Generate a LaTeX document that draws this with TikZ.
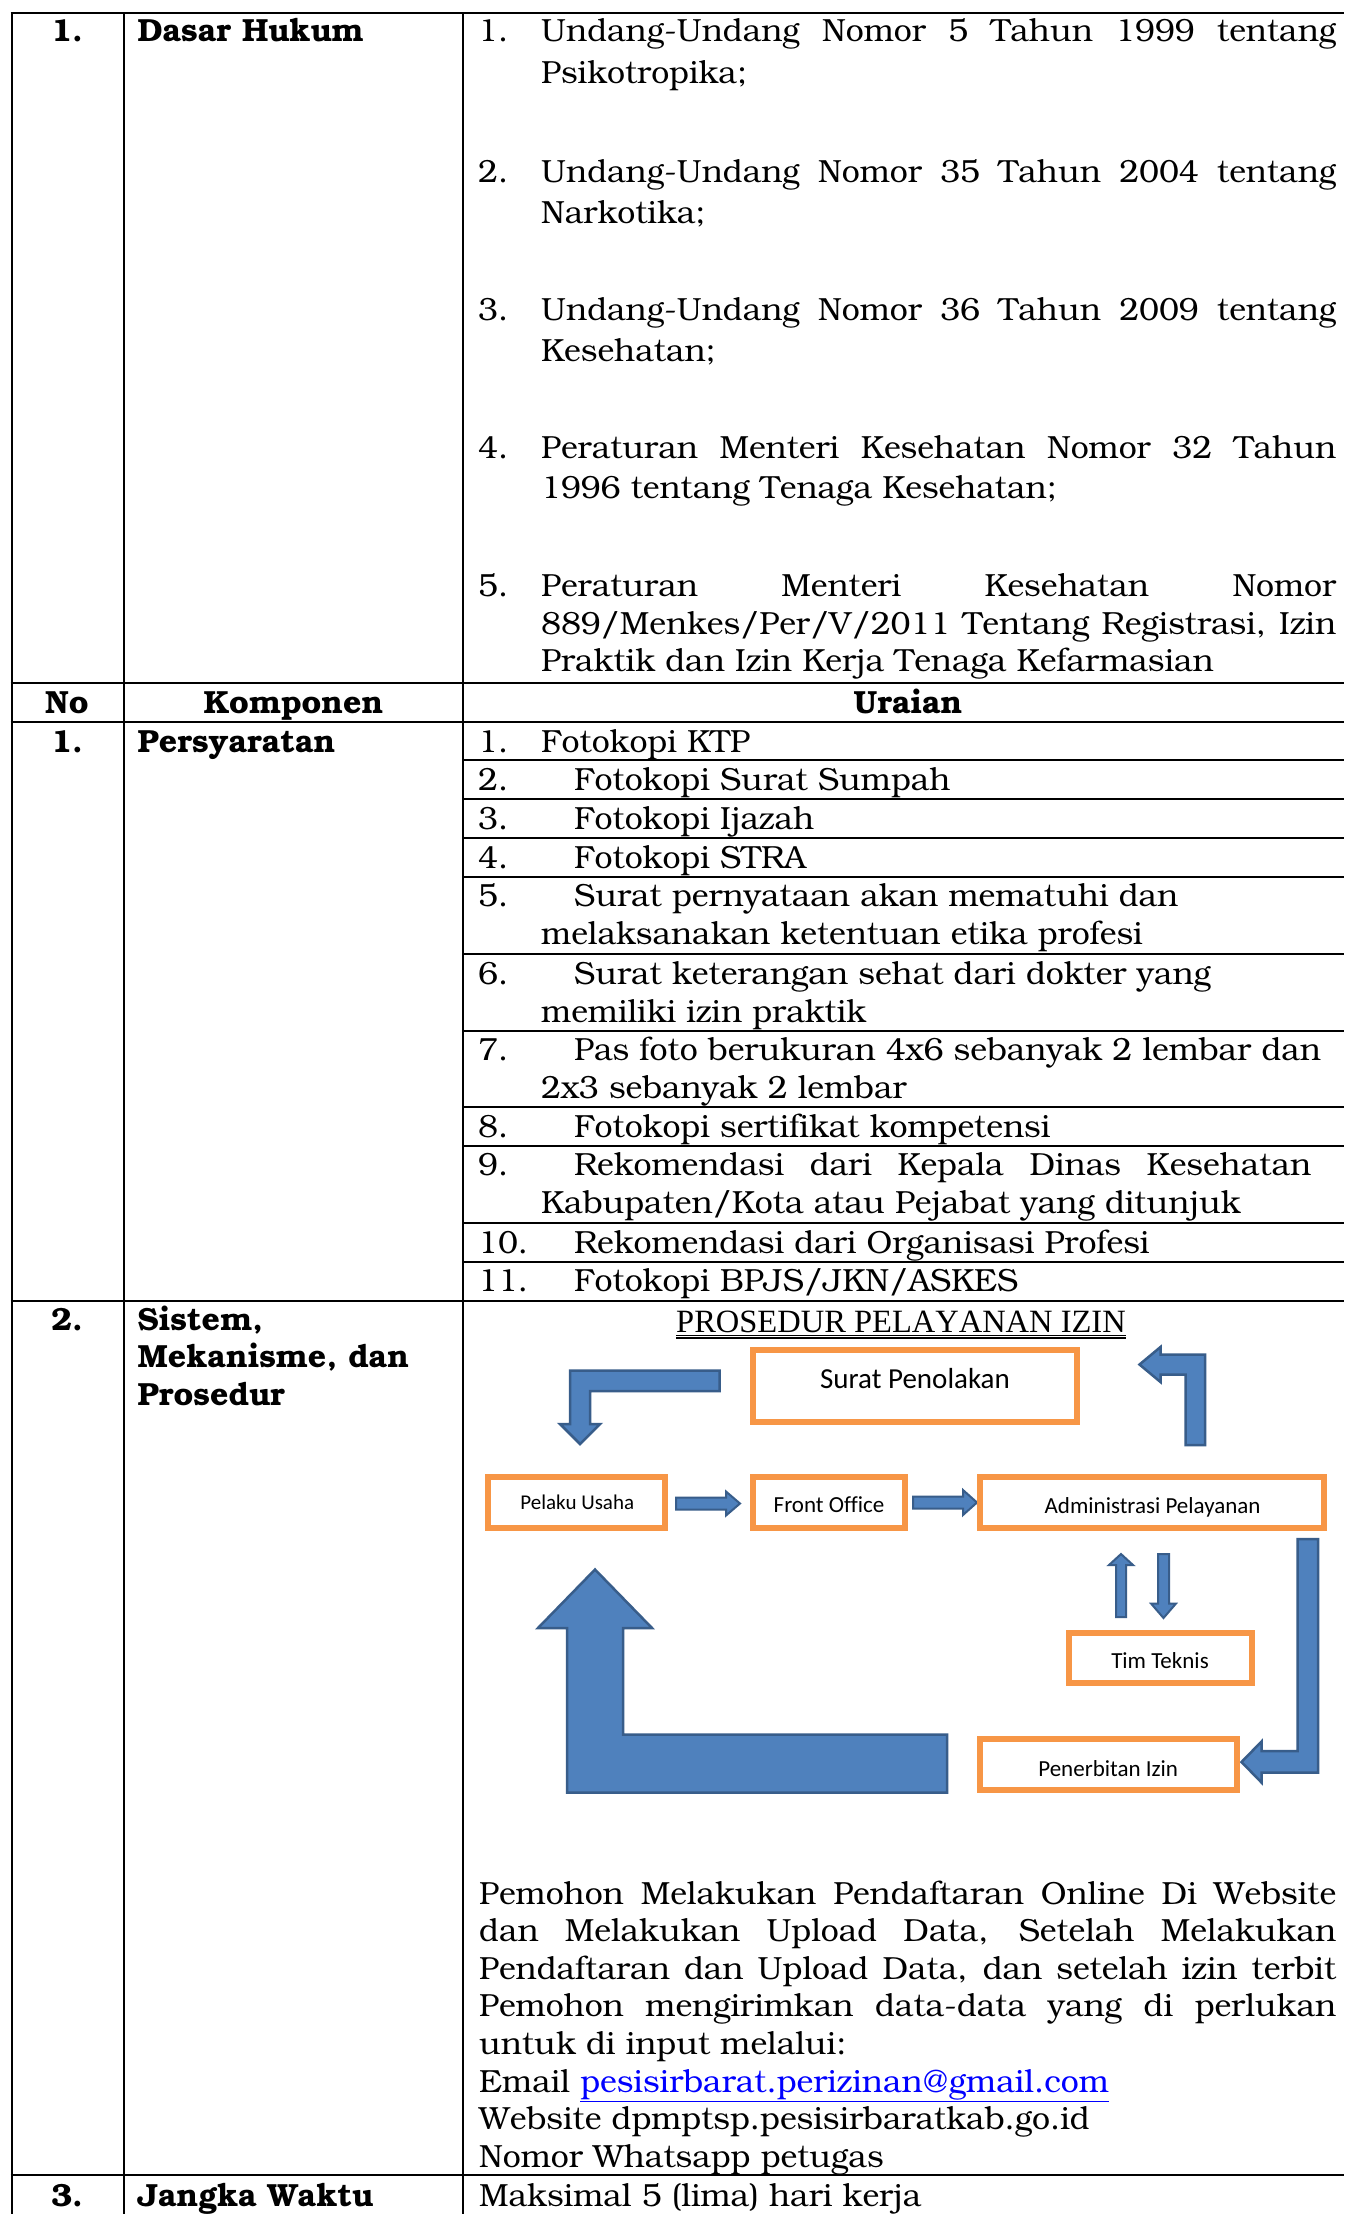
\documentclass[tikz,border=0pt]{standalone}
\usepackage{fontspec}
\setmainfont{TeX Gyre Bonum}[Kerning=Off, Ligatures=NoCommon]
\newfontfamily\calibrifont{Carlito}[Ligatures=NoCommon]
\newfontfamily\titlefont{Liberation Serif}[Kerning=Off]
\definecolor{boxorange}{HTML}{F79646}
\definecolor{arrowblue}{HTML}{4F81BD}
\definecolor{arrowedge}{HTML}{385D8A}
\definecolor{linkblue}{HTML}{0000FF}
\newcommand\spreadto[2]{\makebox[#1pt][s]{#2}}
\begin{document}
\begin{tikzpicture}[x=1pt, y=-1pt,
  body/.style={anchor=base west, inner sep=0pt, font=\fontsize{32}{37}\selectfont},
  bodyhead/.style={anchor=base west, inner sep=0pt, font=\fontsize{32}{37}\selectfont\bfseries},
  numc/.style={anchor=base, inner sep=0pt, font=\fontsize{32}{37}\selectfont\bfseries},
  rulel/.style={line width=2pt, black},
  flowbox/.style={draw=boxorange, line width=6pt, inner sep=0pt, fill=white},
  lbl/.style={anchor=base, inner sep=0pt, font=\calibrifont\fontsize{23}{27}\selectfont},
  blockarrow/.style={fill=arrowblue, draw=arrowedge, line width=2.5pt, line join=miter},
  thinarrow/.style={fill=arrowblue, draw=arrowedge, line width=2pt, line join=miter}]
\fill[white] (0,0) rectangle (1344,2214);
\path[use as bounding box] (0,0) rectangle (1344,2214);

% ---------- table rules ----------
\foreach \xx in {11.5,123.5,463} \draw[rulel] (\xx,12.5) -- (\xx,2214);
\foreach \yy in {12.5,683,722,1300.5,2175} \draw[rulel] (10.5,\yy) -- (1344,\yy);
\foreach \yy in {760,798.5,838,876.5,954,1030.5,1107,1145.5,1223,1261.5} \draw[rulel] (463,\yy) -- (1344,\yy);

% ---------- row: Dasar Hukum ----------
\node[numc] (r1no) at (67,41) {1.};
\node[bodyhead] (r1k) at (137.5,41) {Dasar Hukum};
\node[body] (d1n) at (478,41) {1.};
\node[body] (d1a) at (541,41) {\spreadto{795}{Undang-Undang Nomor 5 Tahun 1999 tentang}};
\node[body] (d1b) at (541,83) {Psikotropika;};
\node[body] (d2n) at (478,182) {2.};
\node[body] (d2a) at (541,182) {\spreadto{795}{Undang-Undang Nomor 35 Tahun 2004 tentang}};
\node[body] (d2b) at (541,223) {Narkotika;};
\node[body] (d3n) at (478,320) {3.};
\node[body] (d3a) at (541,320) {\spreadto{795}{Undang-Undang Nomor 36 Tahun 2009 tentang}};
\node[body] (d3b) at (541,361) {Kesehatan;};
\node[body] (d4n) at (478,458) {4.};
\node[body] (d4a) at (541,458) {\spreadto{795}{Peraturan Menteri Kesehatan Nomor 32 Tahun}};
\node[body] (d4b) at (541,498) {1996 tentang Tenaga Kesehatan;};
\node[body] (d5n) at (478,596) {5.};
\node[body] (d5a) at (541,596) {\spreadto{795}{Peraturan Menteri Kesehatan Nomor}};
\node[body] (d5b) at (541,634) {\spreadto{795}{889/Menkes/Per/V/2011 Tentang Registrasi, Izin}};
\node[body] (d5c) at (541,671) {Praktik dan Izin Kerja Tenaga Kefarmasian};

% ---------- header row ----------
\node[numc] (hno) at (67,713) {No};
\node[numc] (hkomp) at (293.5,713) {Komponen};
\node[numc] (hur) at (908,713) {Uraian};

% ---------- row: Persyaratan ----------
\node[numc] (r2no) at (67,752) {1.};
\node[bodyhead] (r2k) at (137.5,752) {Persyaratan};
\node[body] (p1n) at (478,752) {1.};
\node[body] (p1a) at (541,752) {Fotokopi KTP};
\node[body] (p2n) at (478,790) {2.};
\node[body] (p2a) at (574,790) {Fotokopi Surat Sumpah};
\node[body] (p3n) at (478,829) {3.};
\node[body] (p3a) at (574,829) {Fotokopi Ijazah};
\node[body] (p4n) at (478,868) {4.};
\node[body] (p4a) at (574,868) {Fotokopi STRA};
\node[body] (p5n) at (478,906.5) {5.};
\node[body] (p5a) at (574,906.5) {Surat pernyataan akan mematuhi dan};
\node[body] (p5b) at (541,944.5) {melaksanakan ketentuan etika profesi};
\node[body] (p6n) at (478,984.5) {6.};
\node[body] (p6a) at (574,984.5) {Surat keterangan sehat dari dokter yang};
\node[body] (p6b) at (541,1022) {memiliki izin praktik};
\node[body] (p7n) at (478,1060.5) {7.};
\node[body] (p7a) at (574,1060.5) {Pas foto berukuran 4x6 sebanyak 2 lembar dan};
\node[body] (p7b) at (541,1098.5) {2x3 sebanyak 2 lembar};
\node[body] (p8n) at (478,1137) {8.};
\node[body] (p8a) at (574,1137) {Fotokopi sertifikat kompetensi};
\node[body] (p9n) at (478,1175.5) {9.};
\node[body] (p9a) at (574,1175.5) {\spreadto{737}{Rekomendasi dari Kepala Dinas Kesehatan}};
\node[body] (p9b) at (541,1213.5) {Kabupaten/Kota atau Pejabat yang ditunjuk};
\node[body] (p10n) at (478,1253) {10.};
\node[body] (p10a) at (574,1253) {Rekomendasi dari Organisasi Profesi};
\node[body] (p11n) at (478,1291.5) {11.};
\node[body] (p11a) at (574,1291.5) {Fotokopi BPJS/JKN/ASKES};

% ---------- row: Sistem, Mekanisme, dan Prosedur ----------
\node[numc] (r3no) at (67,1330.5) {2.};
\node[bodyhead] (r3k1) at (137.5,1330.5) {Sistem,};
\node[bodyhead] (r3k2) at (137.5,1367.5) {Mekanisme, dan};
\node[bodyhead] (r3k3) at (137.5,1405) {Prosedur};

% flow chart title
\node[anchor=base, inner sep=0pt, font=\titlefont\fontsize{32.5}{36}\selectfont] (ftitle) at (901,1332) {PROSEDUR PELAYANAN IZIN};
\draw[line width=1.1pt] ([yshift=-3.6pt]ftitle.base west) -- ([yshift=-3.6pt]ftitle.base east);
\draw[line width=1.1pt] ([yshift=-6pt]ftitle.base west) -- ([yshift=-6pt]ftitle.base east);

% block arrows
\draw[blockarrow] (719.5,1370.5) -- (570,1370.5) -- (570,1424) -- (560,1424) -- (580,1444) -- (600,1424) -- (590,1424) -- (590,1391) -- (719.5,1391) -- cycle;
\draw[blockarrow] (1205,1445) -- (1205,1354.5) -- (1160.5,1354.5) -- (1160.5,1347) -- (1139.5,1364.5) -- (1160.5,1382) -- (1160.5,1374.5) -- (1185.5,1374.5) -- (1185.5,1445) -- cycle;
\draw[blockarrow] (1297.5,1539) -- (1318,1539) -- (1318,1772.5) -- (1261.5,1772.5) -- (1261.5,1782.5) -- (1241.5,1762) -- (1261.5,1741.5) -- (1261.5,1751) -- (1297.5,1751) -- cycle;
\draw[blockarrow] (947,1734.5) -- (623,1734.5) -- (623,1628) -- (652,1628) -- (595,1569.5) -- (538,1628) -- (567,1628) -- (567,1792.5) -- (947,1792.5) -- cycle;
\draw[thinarrow] (676,1497.5) -- (726,1497.5) -- (726,1491.5) -- (740,1503.5) -- (726,1515.5) -- (726,1509.5) -- (676,1509.5) -- cycle;
\draw[thinarrow] (913,1496.5) -- (963,1496.5) -- (963,1490) -- (977,1502.5) -- (963,1515) -- (963,1508.5) -- (913,1508.5) -- cycle;
\draw[thinarrow] (1116,1617) -- (1116,1565) -- (1109,1565) -- (1121,1554) -- (1133,1565) -- (1126,1565) -- (1126,1617) -- cycle;
\draw[thinarrow] (1158,1554) -- (1169,1554) -- (1169,1603.5) -- (1176,1603.5) -- (1163.5,1618) -- (1151,1603.5) -- (1158,1603.5) -- cycle;

% flow chart boxes
\node[flowbox, minimum width=324pt, minimum height=72pt] (surat) at (915,1385.5) {};
\node[flowbox, minimum width=177pt, minimum height=50.5pt] (pelaku) at (576.5,1502.25) {};
\node[flowbox, minimum width=152pt, minimum height=50.5pt] (front) at (829,1502.25) {};
\node[flowbox, minimum width=344pt, minimum height=50.5pt] (admin) at (1152,1502.25) {};
\node[flowbox, minimum width=183.5pt, minimum height=50pt] (tim) at (1160.25,1658) {};
\node[flowbox, minimum width=257pt, minimum height=50.5pt] (terbit) at (1108.5,1764.25) {};

\node[lbl, font=\calibrifont\fontsize{29}{33}\selectfont] (suratt) at (915,1388) {Surat Penolakan};
\node[lbl, font=\calibrifont\fontsize{21}{25}\selectfont] (pelakut) at (577.3,1509.5) {Pelaku Usaha};
\node[lbl] (frontt) at (829,1512.5) {Front Office};
\node[lbl] (admint) at (1152.6,1513) {Administrasi Pelayanan};
\node[lbl] (timt) at (1160,1668) {Tim Teknis};
\node[lbl] (terbitt) at (1108.2,1776) {Penerbitan Izin};

% description paragraph
\node[body] (m1) at (479,1904) {\spreadto{857}{Pemohon Melakukan Pendaftaran Online Di Website}};
\node[body] (m2) at (479,1941.6) {\spreadto{857}{dan Melakukan Upload Data, Setelah Melakukan}};
\node[body] (m3) at (479,1979.2) {\spreadto{857}{Pendaftaran dan Upload Data, dan setelah izin terbit}};
\node[body] (m4) at (479,2016.8) {\spreadto{857}{Pemohon mengirimkan data-data yang di perlukan}};
\node[body] (m5) at (479,2054.4) {untuk di input melalui:};
\node[body] (m6) at (479,2092) {Email \textcolor{linkblue}{\underline{pesisirbarat.perizinan@gmail.com}}};
\node[body] (m7) at (479,2129.6) {Website dpmptsp.pesisirbaratkab.go.id};
\node[body] (m8) at (479,2167.2) {Nomor Whatsapp petugas};

% ---------- row: Jangka Waktu ----------
\node[numc] (r4no) at (67,2206) {3.};
\node[bodyhead] (r4k) at (137.5,2206) {Jangka Waktu};
\node[body] (j1) at (479,2206) {Maksimal 5 (lima) hari kerja};
\end{tikzpicture}
\end{document}
